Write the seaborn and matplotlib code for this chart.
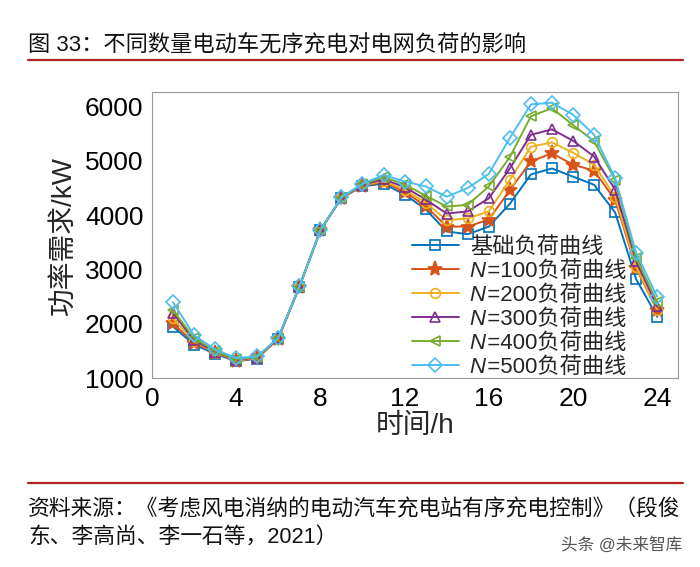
import numpy as np
import pandas as pd
import matplotlib
matplotlib.use('Agg')
import matplotlib.pyplot as plt
import seaborn as sns

# hourly load (kW)
hours = list(range(1, 25))
base = [1950, 1620, 1450, 1310, 1360, 1730, 2680, 3720, 4320, 4530, 4580, 4380,
        4110, 3700, 3650, 3790, 4210, 4750, 4860, 4710, 4560, 4050, 2820, 2130]
n100 = [2010, 1650, 1470, 1320, 1365, 1730, 2680, 3720, 4320, 4540, 4610, 4430,
        4170, 3790, 3790, 3920, 4460, 4990, 5140, 4930, 4820, 4280, 3020, 2250]
n200 = [2100, 1680, 1480, 1330, 1370, 1730, 2680, 3720, 4320, 4550, 4630, 4470,
        4230, 3910, 3940, 4070, 4650, 5260, 5340, 5150, 4930, 4340, 3050, 2260]
n300 = [2200, 1700, 1490, 1340, 1380, 1735, 2680, 3720, 4320, 4560, 4660, 4520,
        4290, 4030, 4070, 4310, 4860, 5480, 5580, 5370, 5080, 4470, 3150, 2320]
n400 = [2250, 1740, 1500, 1350, 1390, 1740, 2680, 3720, 4320, 4570, 4700, 4570,
        4360, 4160, 4190, 4530, 5070, 5820, 5970, 5660, 5360, 4650, 3210, 2400]
n500 = [2400, 1790, 1530, 1370, 1400, 1745, 2690, 3720, 4330, 4580, 4740, 4620,
        4530, 4340, 4500, 4760, 5420, 6040, 6070, 5850, 5480, 4680, 3300, 2500]

counts = [100, 200, 300, 400, 500]
# leading gap leaves room for an italic N drawn on top later
labels = ['基础负荷曲线'] + [f' \u2002={n}负荷曲线' for n in counts]
series = [base, n100, n200, n300, n400, n500]
colors = ['#0072BD', '#D95319', '#EDB120', '#7E2F8E', '#77AC30', '#4DBEEE']
markers = ['s', '*', 'o', '^', '<', 'D']

sns.set_theme(style='white')
fams = ['Liberation Sans', 'Noto Sans CJK SC', 'DejaVu Sans']
plt.rcParams['font.family'] = fams

fig = plt.figure(figsize=(7, 5.67), dpi=100)
ax = fig.add_axes([0.217, 0.333, 0.752, 0.505])

for vals, lab, c, m in zip(series, labels, colors, markers):
    df = pd.DataFrame({'hour': hours, 'load': vals})
    filled = (m == '*')
    sns.lineplot(data=df, x='hour', y='load', ax=ax, color=c, marker=m,
                 markersize=11 if filled else 7, linewidth=1.4,
                 markerfacecolor=c if filled else 'none',
                 markeredgecolor=c, markeredgewidth=1.2, label=lab)

ax.set_xlim(0, 25)
ax.set_ylim(1000, 6270)
ax.set_xticks([0, 4, 8, 12, 16, 20, 24])
ax.set_yticks([1000, 2000, 3000, 4000, 5000, 6000])
ax.tick_params(axis='both', direction='in', length=4, width=0.8,
               labelsize=19, colors='#222222', pad=6)
ax.tick_params(axis='both', labelcolor='black')
for sp in ax.spines.values():
    sp.set_color('#999999')
    sp.set_linewidth(0.8)

ax.set_xlabel('时间/h', fontsize=20, labelpad=2)
ax.set_ylabel('功率需求/kW', fontsize=20, labelpad=6)

leg = ax.legend(loc='lower left', bbox_to_anchor=(0.494, 0.0), frameon=False,
                fontsize=16, handlelength=2.1, handletextpad=0.5,
                labelspacing=0.14, borderpad=0, borderaxespad=0)
# italic N, drawn after the legend so its text positions are known
for txt in leg.get_texts()[1:]:
    ax.annotate('N', xy=(0, 0), xycoords=txt, ha='left', va='bottom',
                fontsize=16, fontstyle='italic', family=fams,
                annotation_clip=False, zorder=10)

# header and footer
fig.text(0.04, 0.92, '图 33：不同数量电动车无序充电对电网负荷的影响',
         fontsize=16, ha='left', va='center', color='#111111')
fig.add_artist(plt.Line2D([0.04, 0.976], [0.894, 0.894], color='#B22222', lw=1.6))
fig.add_artist(plt.Line2D([0.04, 0.976], [0.148, 0.148], color='#B22222', lw=1.6))
fig.text(0.04, 0.10, '资料来源：《考虑风电消纳的电动汽车充电站有序充电控制》（段俊',
         fontsize=15.7, ha='left', va='center', color='#111111')
fig.text(0.04, 0.052, '东、李高尚、李一石等，2021）',
         fontsize=15.7, ha='left', va='center', color='#111111')
fig.text(0.975, 0.04, '头条 @未来智库', fontsize=12, ha='right', va='center',
         color='#555555')

fig.savefig('out.png', dpi=100)
